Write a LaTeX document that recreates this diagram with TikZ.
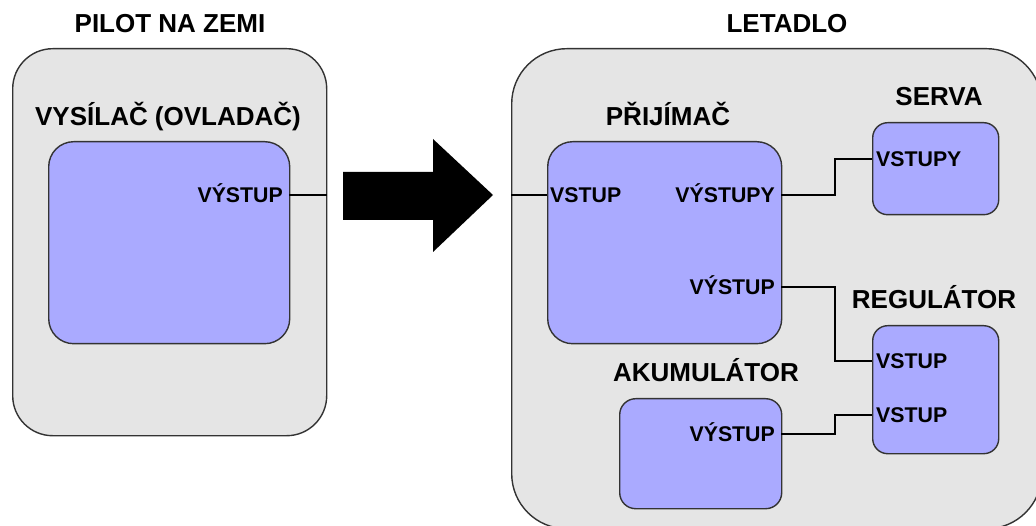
\documentclass[tikz,border=0pt]{standalone}
\usepackage{fontspec}
\setmainfont{Liberation Sans}
\begin{document}
\begin{tikzpicture}[x=1pt,y=-1pt,
  outerbox/.style={draw=black!80, line width=1.4pt, fill=black!10, rectangle, inner sep=0pt, anchor=north west},
  bluebox/.style={draw=black!80, line width=1.4pt, fill={rgb,255:red,170;green,170;blue,255}, rectangle, inner sep=0pt, anchor=north west},
  title/.style={font=\fontsize{26}{30}\selectfont\bfseries, inner sep=0pt, anchor=base},
  lbl/.style={font=\fontsize{21.3}{25}\selectfont\bfseries, inner sep=0pt},
  wire/.style={draw=black, line width=2.3pt},
  bigarrow/.style={fill=black, draw=none}]
\useasboundingbox (0,0) rectangle (1036,526);
\clip (0,0) rectangle (1036,526);
\fill[white] (0,0) rectangle (1036,526);

% outer boxes
\node[outerbox, minimum width=314pt, minimum height=387pt, rounded corners=40pt] (ground) at (12,48) {};
\node[outerbox, minimum width=530pt, minimum height=480pt, rounded corners=55pt] (plane) at (511,48) {};

% titles
\node[title] (tground) at (170,33) {PILOT NA ZEMI};
\node[title] (tplane) at (787,33) {LETADLO};
\node[title] (ttx) at (168,126) {VYSÍLAČ (OVLADAČ)};
\node[title] (trx) at (668,126) {PŘIJÍMAČ};
\node[title] (tserva) at (939,106) {SERVA};
\node[title] (treg) at (934,309) {REGULÁTOR};
\node[title] (takku) at (706,382) {AKUMULÁTOR};

% blue boxes
\node[bluebox, minimum width=241pt, minimum height=202pt, rounded corners=25pt] (tx) at (48,141) {};
\node[bluebox, minimum width=234pt, minimum height=202pt, rounded corners=25pt] (rx) at (547,141) {};
\node[bluebox, minimum width=126pt, minimum height=92pt, rounded corners=15pt] (serva) at (872,122) {};
\node[bluebox, minimum width=126pt, minimum height=128pt, rounded corners=15pt] (reg) at (872,325) {};
\node[bluebox, minimum width=162pt, minimum height=110pt, rounded corners=16pt] (akku) at (619,398) {};

% labels
\node[lbl, anchor=base east] (txout) at (283,202.5) {VÝSTUP};
\node[lbl, anchor=base west] (rxin) at (550,202.5) {VSTUP};
\node[lbl, anchor=base east] (rxouts) at (775,202.5) {VÝSTUPY};
\node[lbl, anchor=base east] (rxout) at (775,294.5) {VÝSTUP};
\node[lbl, anchor=base west] (servain) at (876,166.5) {VSTUPY};
\node[lbl, anchor=base west] (regin1) at (876,368.5) {VSTUP};
\node[lbl, anchor=base west] (regin2) at (876,422.5) {VSTUP};
\node[lbl, anchor=base east] (akkuout) at (775,441.5) {VÝSTUP};

% connector anchors on box edges
\coordinate (txR) at (289,195);
\coordinate (gndR) at (327,195);
\coordinate (planeL) at (511,195);
\coordinate (rxL) at (547,195);
\coordinate (rxR1) at (781,195);
\coordinate (rxR2) at (781,287);
\coordinate (akkuR) at (781,434);
\coordinate (servaL) at (872,159);
\coordinate (regL1) at (872,361);
\coordinate (regL2) at (872,415);

\draw[wire] (txR) -- (gndR);
\draw[wire] (planeL) -- (rxL);
\draw[wire] (rxR1) -- (835,195) -- (835,159) -- (servaL);
\draw[wire] (rxR2) -- (835,287) -- (835,361) -- (regL1);
\draw[wire] (akkuR) -- (835,434) -- (835,415) -- (regL2);

% big arrow
\path[bigarrow] (343,172) -- (433,172) -- (433,139) -- (493,195) -- (433,252) -- (433,220) -- (343,220) -- cycle;
\end{tikzpicture}
\end{document}
